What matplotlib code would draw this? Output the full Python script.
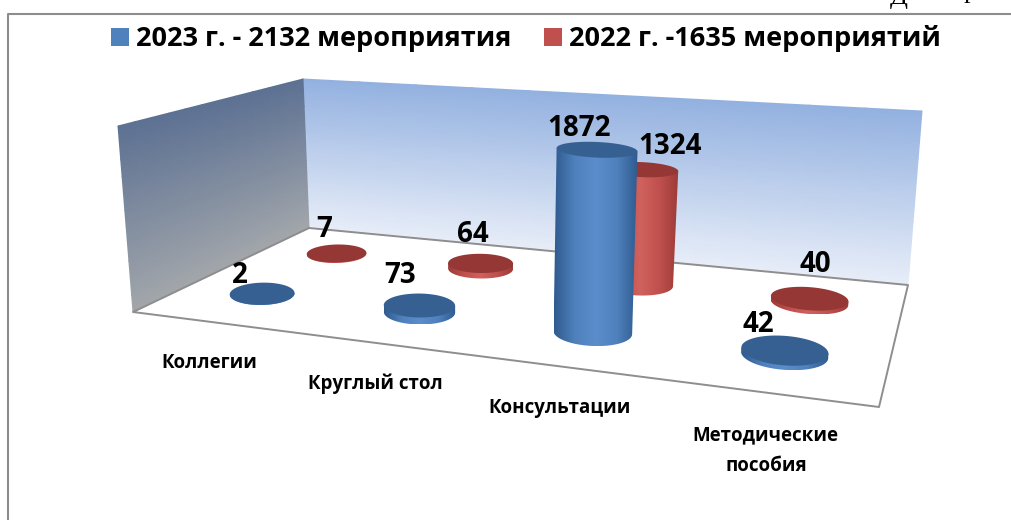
import numpy as np
import matplotlib
matplotlib.use('Agg')
import matplotlib.pyplot as plt
from matplotlib.colors import LinearSegmentedColormap
from matplotlib.patches import Polygon, Patch

plt.rcParams['font.family'] = ['Open Sans', 'DejaVu Sans']

categories = ['Коллегии', 'Круглый стол', 'Консультации', 'Методические\nпособия']
values_2023 = [2, 73, 1872, 42]
values_2022 = [7, 64, 1324, 40]
legend_labels = ['2023 г. - 2132 мероприятия', '2022 г. -1635 мероприятий']
z_max = 2000

# corners of the box in pixels: front-left, front-right, back-right, back-left
floor_px = [(133, 312), (879, 407), (908, 285), (309, 228)]
top_px = [(118, 126), (889, 178), (922, 111), (303, 79)]
depth_2023 = 0.27
depth_2022 = 0.73
rx, ry = 0.054, 0.115

# hand placed data labels, offset in pixels from the top of each cylinder
label_off_2023 = [(-22, -18), (-19, -30), (-18, -21), (-27, -26)]
label_off_2022 = [(-12, -24), (-8, -29), (28, -23), (6, -34)]
cat_off = [(-1, 41), (-1, 41), (-1, 41), (-1, 49)]


def homography(dst):
    src = [(0, 0), (1, 0), (1, 1), (0, 1)]
    A = []
    b = []
    for (u, v), (x, y) in zip(src, dst):
        A.append([u, v, 1, 0, 0, 0, -u * x, -v * x])
        A.append([0, 0, 0, u, v, 1, -u * y, -v * y])
        b += [x, y]
    h = np.linalg.solve(np.array(A, float), np.array(b, float))
    return np.append(h, 1).reshape(3, 3)


H_floor = homography(floor_px)
H_top = homography(top_px)


def apply_h(H, u, v):
    p = H @ np.array([u, v, 1.0])
    return p[0] / p[2], p[1] / p[2]


def project(u, v, z):
    x0, y0 = apply_h(H_floor, u, v)
    x1, y1 = apply_h(H_top, u, v)
    t = z / z_max
    return x0 + (x1 - x0) * t, y0 + (y1 - y0) * t


def ring(u, v, z):
    # Excel draws the discs nearly flat, so take the size from the projection
    # but keep only a small tilt
    cx, cy = project(u, v, z)
    a = (project(u + rx, v, z)[0] - project(u - rx, v, z)[0]) / 2
    b = (project(u, v - ry, z)[1] - project(u, v + ry, z)[1]) / 2
    tilt = np.radians((u - 0.3) * 8)
    t = np.linspace(0, 2 * np.pi, 121)
    x = cx + a * np.cos(t) * np.cos(tilt) - b * np.sin(t) * np.sin(tilt)
    y = cy + a * np.cos(t) * np.sin(tilt) + b * np.sin(t) * np.cos(tilt)
    return x, y


def wall(ax, pts_top, pts_bot, cmap):
    s = np.linspace(0, 1, 12)
    r = np.linspace(0, 1, 12)
    X = np.zeros((12, 12))
    Y = np.zeros((12, 12))
    for i in range(12):
        for j in range(12):
            top = (pts_top[0][0] + (pts_top[1][0] - pts_top[0][0]) * s[j], pts_top[0][1] + (pts_top[1][1] - pts_top[0][1]) * s[j])
            bot = (pts_bot[0][0] + (pts_bot[1][0] - pts_bot[0][0]) * s[j], pts_bot[0][1] + (pts_bot[1][1] - pts_bot[0][1]) * s[j])
            X[i, j] = top[0] + (bot[0] - top[0]) * r[i]
            Y[i, j] = top[1] + (bot[1] - top[1]) * r[i]
    C = np.tile((1 - r).reshape(-1, 1), (1, 12))
    ax.pcolormesh(X, Y, C, shading='gouraud', cmap=cmap, vmin=0, vmax=1, zorder=1)


def cylinder(ax, u, v, value, dark, mid, light, side_dark, zorder):
    bx, by = ring(u, v, 0)
    tx, ty = ring(u, v, value)
    il = np.argmin(bx)
    ir = np.argmax(bx)
    tl = np.argmin(tx)
    tr = np.argmax(tx)
    # lower half of the base ellipse
    lower = [i for i in range(len(bx)) if by[i] >= by[il] + (by[ir] - by[il]) * (bx[i] - bx[il]) / (bx[ir] - bx[il])]
    lower.sort(key=lambda i: bx[i])
    px = [tx[tl]] + [bx[i] for i in lower] + [tx[tr]]
    py = [ty[tl]] + [by[i] for i in lower] + [ty[tr]]
    poly = Polygon(np.column_stack([px, py]), closed=True, fc='none', ec='none', zorder=zorder)
    ax.add_patch(poly)
    cmap = LinearSegmentedColormap.from_list('side', [side_dark, mid, light, mid, side_dark])
    grad = np.linspace(0, 1, 128).reshape(1, -1)
    x0, x1 = min(px), max(px)
    y0, y1 = min(py), max(py)
    im = ax.imshow(grad, extent=(x0, x1, y1, y0), cmap=cmap, aspect='auto', zorder=zorder, interpolation='bilinear')
    im.set_clip_path(poly)
    ax.fill(tx, ty, color=dark, lw=0, zorder=zorder + 0.1)


fig = plt.figure(figsize=(10.11, 5.20), dpi=100)
ax = fig.add_axes([0, 0, 1, 1])
ax.set_xlim(0, 1011)
ax.set_ylim(520, 0)
ax.axis('off')

# outer frame, and the bits of the page text cut off above it
ax.plot([8, 8, 1011], [520, 13.5, 13.5], color='#8c8c8c', lw=1.5, zorder=1)
ax.text(899, 4, 'Д', family='Liberation Serif', fontsize=19, ha='center', va='baseline', zorder=1)
ax.text(970, -2, 'р', family='Liberation Serif', fontsize=19, ha='center', va='baseline', zorder=1)

back_cmap = LinearSegmentedColormap.from_list('back', ['#e8eef8', '#93b1e0'])
side_cmap = LinearSegmentedColormap.from_list('side', ['#a3a7ab', '#5d7193'])
wall(ax, [top_px[3], top_px[2]], [floor_px[3], floor_px[2]], back_cmap)
wall(ax, [top_px[0], top_px[3]], [floor_px[0], floor_px[3]], side_cmap)
ax.plot(*zip(floor_px[3], floor_px[0], floor_px[1], floor_px[2], floor_px[3]), color='#8e8e8e', lw=1.4, zorder=2)

# back row first so 2023 overlaps 2022
u_pos = (np.arange(len(categories)) + 0.5) / len(categories)
for i in range(len(categories)):
    cylinder(ax, u_pos[i], depth_2022, values_2022[i], '#953735', '#c0504d', '#d0625e', '#9c3b38', 3)
    x, y = project(u_pos[i], depth_2022, values_2022[i])
    ax.text(x + label_off_2022[i][0], y + label_off_2022[i][1], str(values_2022[i]), fontsize=20, fontweight='bold',
            ha='center', va='center', color='black', zorder=8)
for i in range(len(categories)):
    cylinder(ax, u_pos[i], depth_2023, values_2023[i], '#376092', '#4f81bd', '#5b8dcc', '#2f5b8f', 5)
    x, y = project(u_pos[i], depth_2023, values_2023[i])
    ax.text(x + label_off_2023[i][0], y + label_off_2023[i][1], str(values_2023[i]), fontsize=20, fontweight='bold',
            ha='center', va='center', color='black', zorder=8)

for i, name in enumerate(categories):
    x, y = project(u_pos[i], 0.0, 0.0)
    ax.text(x + cat_off[i][0], y + cat_off[i][1] + (9 if i == 3 else 0), name, fontsize=13.5, fontweight='bold',
            ha='center', va='center', linespacing=1.7, color='black', zorder=8)

handles = [Patch(fc='#4f81bd', ec='none'), Patch(fc='#c0504d', ec='none')]
ax.legend(handles, legend_labels, ncol=2, frameon=False, loc='upper center', bbox_to_anchor=(0.52, 0.998),
          prop={'size': 19.5, 'weight': 'bold'}, handlelength=0.68, handleheight=0.68, handletextpad=0.25,
          columnspacing=1.2)

ax.set_xlim(0, 1011)
ax.set_ylim(520, 0)
fig.savefig('out.png', dpi=100)
